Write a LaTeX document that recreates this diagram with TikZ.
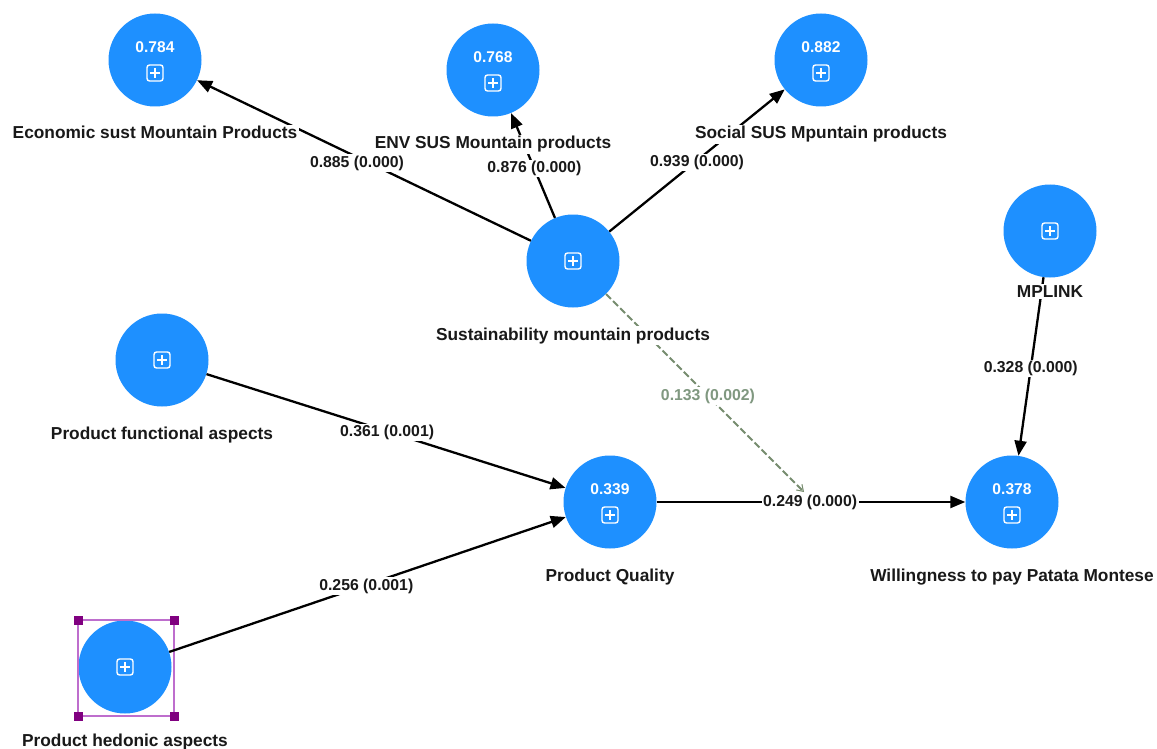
\documentclass[tikz,border=0pt]{standalone}
\usepackage{fontspec}
\setmainfont{Liberation Sans}
\usetikzlibrary{arrows.meta}
\definecolor{lvblue}{RGB}{30,144,255}
\definecolor{modgreen}{RGB}{118,140,110}
\definecolor{modtext}{RGB}{128,152,128}
\definecolor{selline}{RGB}{190,110,205}
\definecolor{selcorner}{RGB}{128,0,128}
\definecolor{txt}{RGB}{25,25,25}
\begin{document}
\begin{tikzpicture}[x=1pt,y=-1pt,
  lv/.style={circle,fill=lvblue,minimum size=93pt,inner sep=0pt},
  val/.style={text=white,font=\fontsize{15.6}{18}\selectfont\bfseries,inner sep=0pt},
  edge/.style={draw=black,line width=2.3pt,-{Triangle[length=15pt,width=12pt]}},
  modedge/.style={draw=modgreen,line width=1.8pt,dash pattern=on 7pt off 3pt,-{Straight Barb[length=6pt,width=8pt,line width=1pt]}},
  plab/.style={fill=white,text=txt,font=\fontsize{15.8}{18}\selectfont\bfseries,inner sep=1.5pt,text height=11.5pt,text depth=3pt},
  mlab/.style={plab,text=modtext},
  lbl/.style={fill=white,text=txt,font=\fontsize{17.3}{20}\selectfont\bfseries,inner sep=1.5pt,anchor=base},
  plusicon/.pic={\draw[white,line width=1.4pt,rounded corners=2.5pt] (-8,-8) rectangle (8,8);
                 \draw[white,line width=1.4pt] (-5,0) -- (5,0) (0,-5) -- (0,5);}
]
\useasboundingbox[fill=white] (0,0) rectangle (1157,749);

% latent variables
\node[lv] (econ) at (155,60) {};
\node[lv] (env) at (493,70) {};
\node[lv] (soc) at (821,60) {};
\node[lv] (sust) at (573,261) {};
\node[lv] (mplink) at (1050,231) {};
\node[lv] (func) at (162,360) {};
\node[lv] (qual) at (610,502) {};
\node[lv] (wtp) at (1012,502) {};
\node[lv] (hed) at (125,667) {};

% values and icons
\node[val] (econv) at (155,47) {0.784};
\node[val] (envv) at (493,57) {0.768};
\node[val] (socv) at (821,47) {0.882};
\node[val] (qualv) at (610,489) {0.339};
\node[val] (wtpv) at (1012,489) {0.378};
\pic at (155,73) {plusicon};
\pic at (493,83) {plusicon};
\pic at (821,73) {plusicon};
\pic at (573,261) {plusicon};
\pic at (1050,231) {plusicon};
\pic at (162,360) {plusicon};
\pic at (610,515) {plusicon};
\pic at (1012,515) {plusicon};
\pic at (125,667) {plusicon};

% selection box
\draw[selline,line width=1.2pt] (78,620) rectangle (174,716);
\foreach \cx/\cy in {78/620,174/620,78/716,174/716}
  \fill[selcorner] (\cx-4.5,\cy-4.5) rectangle (\cx+4.5,\cy+4.5);

% connectors
\coordinate (mod) at (804,492);
\draw[modedge] (sust) -- (mod) node[mlab,pos=0.515] (m1) {0.133 (0.002)};
\draw[edge] (sust) -- (econ) node[plab,pos=0.515,yshift=-5pt,xshift=-2pt] (e1) {0.885 (0.000)};
\draw[edge] (sust) -- (env) node[plab,pos=0.47] (e2) {0.876 (0.000)};
\draw[edge] (sust) -- (soc) node[plab,pos=0.50,yshift=-2pt] (e3) {0.939 (0.000)};
\draw[edge] (func) -- (qual) node[plab,pos=0.503,yshift=-1pt] (e4) {0.361 (0.001)};
\draw[edge] (hed) -- (qual) node[plab,pos=0.497,yshift=-1pt] (e5) {0.256 (0.001)};
\draw[edge] (qual) -- (wtp) node[plab,pos=0.497] (e6) {0.249 (0.000)};
\draw[edge] (mplink) -- (wtp) node[plab,pos=0.51] (e7) {0.328 (0.000)};

% labels
\node[lbl] (econL) at (155,139) {Economic sust Mountain Products};
\node[lbl] (envL) at (493,149) {ENV SUS Mountain products};
\node[lbl] (socL) at (821,139) {Social SUS Mpuntain products};
\node[lbl] (sustL) at (573,340) {Sustainability mountain products};
\node[lbl] (mplinkL) at (1050,297) {MPLINK};
\node[lbl] (funcL) at (162,439) {Product functional aspects};
\node[lbl] (qualL) at (610,581) {Product Quality};
\node[lbl] (wtpL) at (1012,581) {Willingness to pay Patata Montese};
\node[lbl] (hedL) at (125,746) {Product hedonic aspects};
\end{tikzpicture}
\end{document}
